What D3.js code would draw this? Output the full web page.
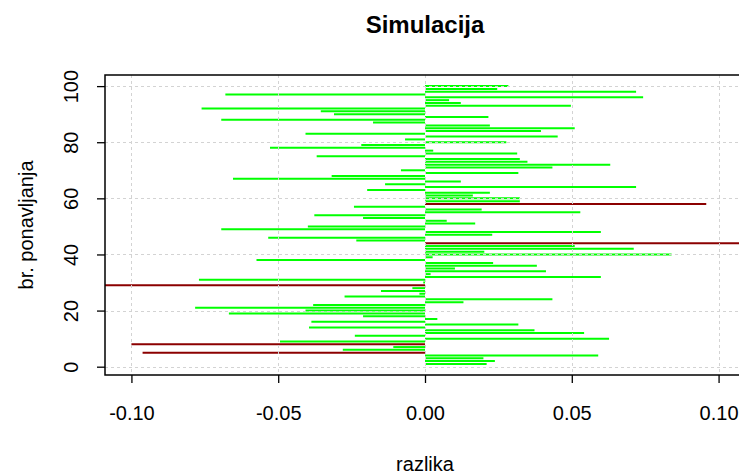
<!DOCTYPE html>
<html>
<head>
<meta charset="utf-8">
<script src="https://cdn.jsdelivr.net/npm/d3@7"></script>
<style>
  html, body { margin: 0; padding: 0; background: #fff; overflow: hidden; }
  svg { display: block; font-family: "Liberation Sans", Arial, sans-serif; }
</style>
</head>
<body>
<div id="chart"></div>
<script>
// Simulacija: one horizontal segment per repetition, from 0 to the difference
// values, repetition 1 first
const razlika = [
  0.0210, 0.0238, 0.0199, 0.0590, -0.0962, -0.0280, -0.0108, -0.1000, -0.0494, 0.0627,
  -0.0239, 0.0542, 0.0373, -0.0395, 0.0318, -0.0387, 0.0042, -0.0211, -0.0668, -0.0407,
  -0.0783, -0.0381, 0.0131, 0.0434, -0.0274, -0.0019, -0.0150, -0.0043, -0.1150, -0.0006,
  -0.0770, 0.0599, 0.0019, 0.0412, 0.0102, 0.0381, 0.0232, -0.0574, 0.0026, 0.0840,
  0.0202, 0.0711, 0.0510, 0.1120, -0.0234, -0.0534, 0.0229, 0.0599, -0.0694, -0.0399,
  0.0171, 0.0074, -0.0211, -0.0377, 0.0529, 0.0193, -0.0242, 0.0958, 0.0323, 0.0323,
  0.0163, 0.0221, -0.0197, 0.0719, -0.0136, 0.0122, -0.0654, -0.0318, 0.0318, -0.0082,
  0.0434, 0.0631, 0.0349, 0.0323, -0.0369, 0.0314, 0.0028, -0.0528, -0.0217, 0.0277,
  -0.0068, 0.0452, -0.0407, 0.0395, 0.0510, 0.0221, -0.0177, -0.0694, 0.0216, -0.0310,
  -0.0355, -0.0761, 0.0497, 0.0122, 0.0082, 0.0743, -0.0680, 0.0719, 0.0246, 0.0284
];
const PRAG = 0.09; // |razlika| above this is drawn dark red

const xTicks = [-0.10, -0.05, 0.00, 0.05, 0.10];
const xLabels = ["-0.10", "-0.05", "0.00", "0.05", "0.10"];
const yTicks = [0, 20, 40, 60, 80, 100];

const WIDTH = 739, HEIGHT = 474;
const plot = {left: 105, right: 745, top: 75, bottom: 375};

const svg = d3.select("#chart").append("svg")
  .attr("width", WIDTH)
  .attr("height", HEIGHT);

const x = d3.scaleLinear().domain([-0.109, 0.109]).range([plot.left, plot.right]);
// R pads the 1..100 range by 4% on each side
const y = d3.scaleLinear().domain([1 - 3.96, 100 + 3.96]).range([plot.bottom, plot.top]);

svg.append("clipPath").attr("id", "clip")
  .append("rect")
  .attr("x", plot.left).attr("y", plot.top)
  .attr("width", plot.right - plot.left).attr("height", plot.bottom - plot.top);

const inner = svg.append("g").attr("clip-path", "url(#clip)");

// segments
inner.append("g")
  .selectAll("line")
  .data(razlika)
  .join("line")
    .attr("x1", x(0))
    .attr("x2", d => x(d))
    .attr("y1", (d, i) => y(i + 1))
    .attr("y2", (d, i) => y(i + 1))
    .attr("stroke", d => Math.abs(d) > PRAG ? "#8b0000" : "#00ff00")
    .attr("stroke-width", 2);

// grid() comes after the segments in the original, so it sits on top
const grid = inner.append("g")
  .attr("stroke", "#d3d3d3")
  .attr("stroke-width", 1)
  .attr("stroke-dasharray", "3,3");
grid.selectAll("line.v").data(xTicks).join("line").attr("class", "v")
  .attr("x1", d => Math.round(x(d)) + 0.5).attr("x2", d => Math.round(x(d)) + 0.5)
  .attr("y1", plot.top).attr("y2", plot.bottom);
grid.selectAll("line.h").data(yTicks).join("line").attr("class", "h")
  .attr("y1", d => Math.round(y(d)) + 0.5).attr("y2", d => Math.round(y(d)) + 0.5)
  .attr("x1", plot.left).attr("x2", plot.right);

// box
svg.append("rect")
  .attr("x", plot.left).attr("y", plot.top)
  .attr("width", plot.right - plot.left).attr("height", plot.bottom - plot.top)
  .attr("fill", "none").attr("stroke", "#000").attr("stroke-width", 1.5);

// axes
const gx = svg.append("g").attr("transform", `translate(0,${plot.bottom})`)
  .call(d3.axisBottom(x).tickValues(xTicks).tickFormat((d, i) => xLabels[i]).tickSize(8));
gx.select(".domain").remove();
gx.selectAll(".tick line").attr("stroke-width", 1.3);
gx.selectAll("text")
  .attr("y", 45).attr("dy", null)
  .attr("font-size", 20).attr("font-family", "Liberation Sans, Arial, sans-serif")
  .attr("fill", "#000");

const gy = svg.append("g").attr("transform", `translate(${plot.left},0)`)
  .call(d3.axisLeft(y).tickValues(yTicks).tickSize(8));
gy.select(".domain").remove();
gy.selectAll(".tick line").attr("stroke-width", 1.3);
gy.selectAll("text")
  .attr("x", null).attr("y", null).attr("dy", null)
  .attr("text-anchor", "middle")
  .attr("transform", "translate(-27,0) rotate(-90)")
  .attr("font-size", 20).attr("font-family", "Liberation Sans, Arial, sans-serif")
  .attr("fill", "#000");

// titles
const midX = (plot.left + plot.right) / 2;
svg.append("text")
  .attr("x", midX).attr("y", 33)
  .attr("text-anchor", "middle")
  .attr("font-size", 24).attr("font-weight", "bold")
  .text("Simulacija");

svg.append("text")
  .attr("x", midX).attr("y", 471)
  .attr("text-anchor", "middle")
  .attr("font-size", 20)
  .text("razlika");

svg.append("text")
  .attr("transform", `translate(33,${(plot.top + plot.bottom) / 2}) rotate(-90)`)
  .attr("text-anchor", "middle")
  .attr("font-size", 20)
  .text("br. ponavljanja");
</script>
</body>
</html>
